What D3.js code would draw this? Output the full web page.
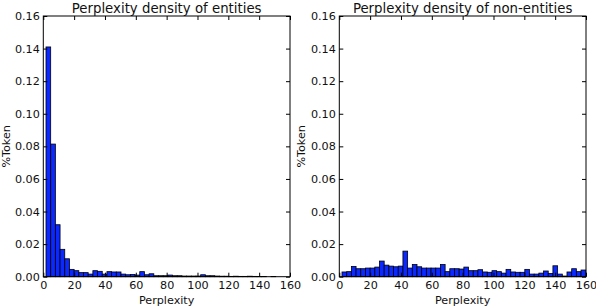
<!DOCTYPE html>
<html>
<head>
<meta charset="utf-8">
<script src="https://cdn.jsdelivr.net/npm/d3@7"></script>
<style>
  html, body { margin: 0; padding: 0; background: #fff; }
  svg { display: block; font-family: "DejaVu Sans", sans-serif; }
</style>
</head>
<body>
<svg id="chart" width="596" height="308"></svg>
<script>
// histogram bins: 52 equal bins starting near perplexity 1.75
const binStart = 1.75;
const binWidth = 3.04;

// %Token per bin
const entityDensity = [
  0.141, 0.0814, 0.0319, 0.0168, 0.011, 0.0045, 0.0037, 0.0025, 0.0025, 0.0016,
  0.0037, 0.0033, 0.0016, 0.0031, 0.0029, 0.0029, 0.0016, 0.0012, 0.0014, 0.001,
  0.0031, 0.0012, 0.0018, 0.0006, 0.0006, 0.0006, 0.001, 0.0006, 0.0006, 0.0004,
  0.0004, 0.0004, 0.0004, 0.0012, 0.0006, 0.0006, 0.0004, 0.0003, 0.0003, 0.0002,
  0.0003, 0.0002, 0.0002, 0.0003, 0.0002, 0.0001, 0.0001, 0, 0.0001, 0,
  0, 0
];
const nonEntityDensity = [
  0.0029, 0.0031, 0.0063, 0.0049, 0.0049, 0.0053, 0.0053, 0.0059, 0.0096, 0.0071,
  0.0065, 0.0061, 0.0065, 0.0157, 0.0053, 0.0075, 0.0061, 0.0053, 0.0053, 0.0053,
  0.0053, 0.0075, 0.0031, 0.0049, 0.0049, 0.0047, 0.0059, 0.0037, 0.0037, 0.0043,
  0.0029, 0.0027, 0.0037, 0.0031, 0.0022, 0.0045, 0.0029, 0.0027, 0.0027, 0.0045,
  0.0016, 0.0016, 0.0022, 0.0035, 0.002, 0.0067, 0.0016, 0.0004, 0.0029, 0.0049,
  0.0031, 0.0041
];

const panelTitles = ['Perplexity density of entities', 'Perplexity density of non-entities'];
const xTicks = [0, 20, 40, 60, 80, 100, 120, 140, 160];
const yTicks = [0, 0.02, 0.04, 0.06, 0.08, 0.10, 0.12, 0.14, 0.16];
const xLabel = 'Perplexity';
const yLabel = '%Token';

const svg = d3.select('#chart');
const plotTop = 16, plotBottom = 276.7;
const panels = [
  { left: 43.3, right: 290, labelX: 6, values: entityDensity, title: panelTitles[0] },
  { left: 339.3, right: 586, labelX: 301, values: nonEntityDensity, title: panelTitles[1] },
];

panels.forEach(p => {
  const x = d3.scaleLinear().domain([0, 160]).range([p.left, p.right]);
  const y = d3.scaleLinear().domain([0, 0.16]).range([plotBottom, plotTop]);
  const g = svg.append('g');

  const bins = p.values.map((v, i) => ({ x0: binStart + i * binWidth, x1: binStart + (i + 1) * binWidth, v }));

  g.append('g').selectAll('rect').data(bins).join('rect')
    .attr('x', d => x(d.x0))
    .attr('width', d => Math.max(0, Math.min(x(d.x1), p.right) - x(d.x0)))
    .attr('y', d => y(d.v))
    .attr('height', d => y(0) - y(d.v))
    .attr('fill', '#0a28ff')
    .attr('stroke', '#000')
    .attr('stroke-width', 0.8);

  const fmtY = d3.format('.2f');
  const axes = [
    [d3.axisBottom(x).tickValues(xTicks).tickSize(-4).tickPadding(4.5), plotBottom, 0],
    [d3.axisTop(x).tickValues(xTicks).tickSize(-4).tickFormat(''), plotTop, 0],
    [d3.axisLeft(y).tickValues(yTicks).tickSize(-4).tickPadding(3.5).tickFormat(fmtY), 0, p.left],
    [d3.axisRight(y).tickValues(yTicks).tickSize(-4).tickFormat(''), 0, p.right],
  ];
  axes.forEach(([ax, ty, tx]) => {
    const a = g.append('g').attr('transform', `translate(${tx},${ty})`).call(ax);
    a.select('.domain').remove();
    a.selectAll('text').attr('font-size', 11.2).attr('fill', '#111').attr('font-family', '"DejaVu Sans", sans-serif');
    a.selectAll('line').attr('stroke', '#000');
  });

  g.append('rect')
    .attr('x', p.left).attr('y', plotTop)
    .attr('width', p.right - p.left).attr('height', plotBottom - plotTop)
    .attr('fill', 'none').attr('stroke', '#000').attr('stroke-width', 1);

  g.append('text')
    .attr('x', (p.left + p.right) / 2).attr('y', 13)
    .attr('text-anchor', 'middle').attr('font-size', 13.3).attr('fill', '#111')
    .text(p.title);

  g.append('text')
    .attr('x', (p.left + p.right) / 2).attr('y', 304)
    .attr('text-anchor', 'middle').attr('font-size', 11.2).attr('fill', '#111')
    .text(xLabel);

  g.append('text')
    .attr('transform', `translate(${p.labelX + 4},${(plotTop + plotBottom) / 2}) rotate(-90)`)
    .attr('text-anchor', 'middle').attr('font-size', 11.2).attr('fill', '#111')
    .text(yLabel);
});
</script>
</body>
</html>
